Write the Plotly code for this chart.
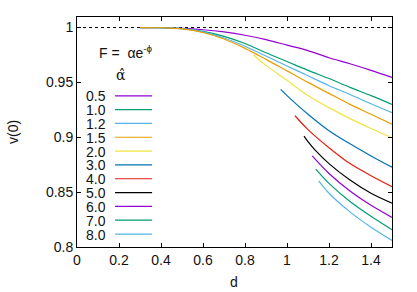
import plotly.graph_objects as go

# ---- data ----
alpha_labels = ["0.5", "1.0", "1.2", "1.5", "2.0", "3.0", "4.0", "5.0", "6.0", "7.0", "8.0"]
colors = ["#9400d3", "#009e73", "#56b4e9", "#e69f00", "#f0e442", "#0072b2",
          "#e51e10", "#000000", "#9400d3", "#009e73", "#56b4e9"]

d_full = [0.3, 0.4, 0.5, 0.6, 0.7, 0.8, 0.9, 1.0, 1.1, 1.2, 1.3, 1.4, 1.5]
v_05 = [1.0, 0.9998, 0.9992, 0.998, 0.996, 0.993, 0.989, 0.984, 0.979, 0.9725, 0.967, 0.961, 0.9545]
v_10 = [1.0, 0.9998, 0.999, 0.9965, 0.992, 0.9855, 0.977, 0.969, 0.961, 0.9535, 0.9455, 0.938, 0.930]
v_12 = [1.0, 0.9998, 0.999, 0.996, 0.9905, 0.983, 0.974, 0.965, 0.956, 0.947, 0.939, 0.9305, 0.9224]
v_15 = [1.0, 0.9998, 0.9988, 0.9955, 0.9895, 0.981, 0.971, 0.9605, 0.950, 0.940, 0.930, 0.921, 0.912]

d_20 = [0.84, 0.9, 1.0, 1.1, 1.2, 1.3, 1.4, 1.5]
v_20 = [0.975, 0.9655, 0.952, 0.938, 0.927, 0.917, 0.908, 0.8995]

d_30 = [0.97, 1.0, 1.1, 1.2, 1.3, 1.4, 1.5]
v_30 = [0.9436, 0.938, 0.921, 0.906, 0.894, 0.883, 0.8727]

d_40 = [1.038, 1.1, 1.2, 1.3, 1.4, 1.5]
v_40 = [0.9196, 0.907, 0.8905, 0.876, 0.865, 0.855]

d_50 = [1.081, 1.1, 1.133, 1.2, 1.3, 1.4, 1.5]
v_50 = [0.901, 0.896, 0.8885, 0.876, 0.861, 0.849, 0.840]

d_60 = [1.12, 1.2, 1.3, 1.4, 1.5]
v_60 = [0.883, 0.867, 0.851, 0.838, 0.827]

d_70 = [1.137, 1.2, 1.3, 1.4, 1.5]
v_70 = [0.871, 0.858, 0.8415, 0.828, 0.8157]

d_80 = [1.151, 1.2, 1.3, 1.4, 1.5]
v_80 = [0.8603, 0.849, 0.832, 0.818, 0.806]

series_d = [d_full, d_full, d_full, d_full, d_20, d_30, d_40, d_50, d_60, d_70, d_80]
series_v = [v_05, v_10, v_12, v_15, v_20, v_30, v_40, v_50, v_60, v_70, v_80]

x_ticks = [0, 0.2, 0.4, 0.6, 0.8, 1.0, 1.2, 1.4]
x_tick_text = ["0", "0.2", "0.4", "0.6", "0.8", "1", "1.2", "1.4"]
y_ticks = [0.8, 0.85, 0.9, 0.95, 1.0]
y_tick_text = ["0.8", "0.85", "0.9", "0.95", "1"]

# ---- layout geometry ----
W, H = 417, 292
L, R, T, B = 77, 25.3, 16.7, 44.7
PW, PH = W - L - R, H - T - B
FONT = "Liberation Sans, Arial, sans-serif"


def px(xp):
    return (xp - L) / PW


def py(yp):
    return (H - B - yp) / PH


fig = go.Figure()

# reference line v = 1
fig.add_trace(go.Scatter(x=[0, 1.5], y=[1, 1], mode="lines",
                         line=dict(color="black", width=1, dash="dot"),
                         showlegend=False, hoverinfo="skip"))

for lab, col, xs, ys in zip(alpha_labels, colors, series_d, series_v):
    fig.add_trace(go.Scatter(x=xs, y=ys, mode="lines", name=lab,
                             line=dict(color=col, width=1.2, shape="spline", smoothing=1.0),
                             showlegend=False))

annotations = []
shapes = []
# custom gnuplot-style legend (label left, sample right)
row0, dy = 95.7, 13.86
for i, (lab, col) in enumerate(zip(alpha_labels, colors)):
    yy = row0 + i * dy
    annotations.append(dict(x=px(108), y=py(yy), xref="paper", yref="paper",
                            text=lab, showarrow=False, xanchor="right", yanchor="middle",
                            height=13, font=dict(family=FONT, size=14, color="#111")))
    shapes.append(dict(type="line", xref="paper", yref="paper",
                       x0=px(115), x1=px(152), y0=py(yy), y1=py(yy),
                       line=dict(color=col, width=1.2)))

annotations.append(dict(x=px(97), y=py(52), xref="paper", yref="paper",
                        text="F =  αe<sup>-ϕ</sup>", showarrow=False,
                        xanchor="left", yanchor="middle",
                        font=dict(family=FONT, size=14, color="#111")))
annotations.append(dict(x=px(121), y=py(75), xref="paper", yref="paper",
                        text="α̂", showarrow=False,
                        xanchor="center", yanchor="middle",
                        font=dict(family="DejaVu Serif, serif", size=14, color="#111")))
# axis titles
annotations.append(dict(x=px(234), y=py(282), xref="paper", yref="paper",
                        text="d", showarrow=False, xanchor="center", yanchor="middle",
                        font=dict(family=FONT, size=14, color="#111")))
annotations.append(dict(x=px(13), y=py(132), xref="paper", yref="paper",
                        text="v(0)", showarrow=False, xanchor="center", yanchor="middle",
                        textangle=-90,
                        font=dict(family=FONT, size=14, color="#111")))

axis_common = dict(showgrid=False, zeroline=False, showline=True, linecolor="black",
                   linewidth=1, mirror="ticks", ticks="inside", ticklen=4,
                   tickcolor="black", tickwidth=1,
                   tickfont=dict(family=FONT, size=14, color="#111"))

fig.update_layout(
    width=W, height=H, autosize=False,
    margin=dict(l=L, r=R, t=T, b=B),
    paper_bgcolor="white", plot_bgcolor="white",
    showlegend=False,
    xaxis=dict(range=[0, 1.5], tickvals=x_ticks, ticktext=x_tick_text, **axis_common),
    yaxis=dict(range=[0.8, 1.0096], tickvals=y_ticks, ticktext=y_tick_text, **axis_common),
    annotations=annotations, shapes=shapes,
)

fig.write_html("out.html", config={"displayModeBar": False},
               post_script="document.body.style.margin='0';document.body.style.overflow='hidden';")
